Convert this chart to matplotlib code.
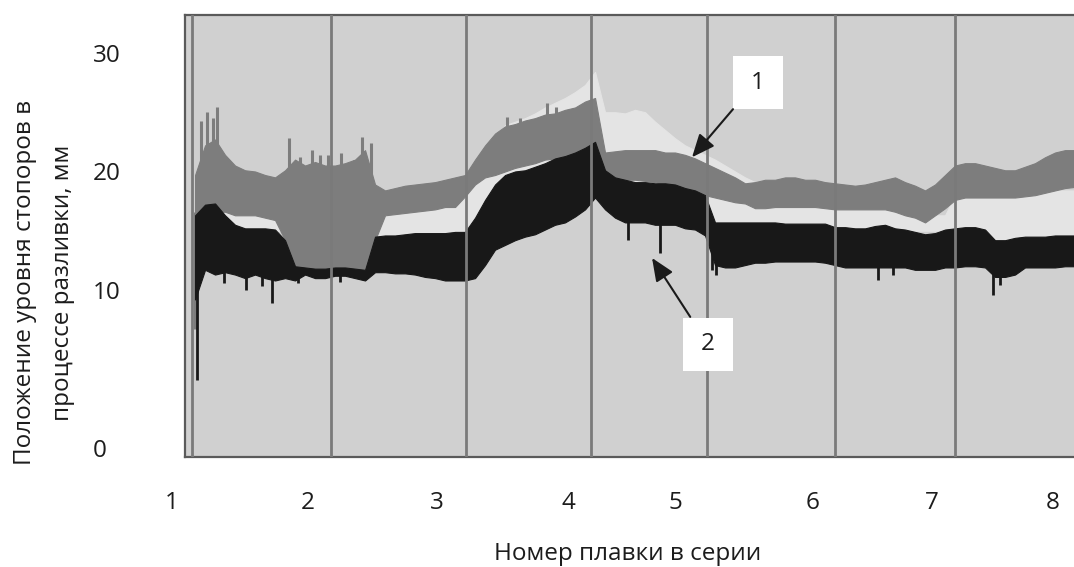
import numpy as np
import matplotlib
matplotlib.use("Agg")
import matplotlib.pyplot as plt
from matplotlib.patches import Rectangle

# ---------------- data ----------------
# time axis (arbitrary units along the casting sequence)
t = np.arange(5, 450, 5)

# heat change moments (vertical lines) and heat-number label positions
heat_bounds = [3.5, 73, 140.5, 203, 261, 325, 385]
heat_label_pos = [-6.5, 61.5, 126, 191.5, 245, 314, 373.5, 434]
heat_labels = ["1", "2", "3", "4", "5", "6", "7", "8"]

y_ticks = [0, 10, 20, 30]
y_ticklabels = ["0", "10", "20", "30"]

# series 1 (medium grey band) - upper / lower envelope, mm
gray_hi = [19.7, 22.2, 22.7, 21.4, 20.5, 20.1, 20.0, 19.7, 19.5, 20.1,
           21.0, 20.5, 20.8, 20.5, 20.5, 20.7, 21.0, 21.8, 18.9, 18.4,
           18.6, 18.8, 18.9, 19.0, 19.1, 19.3, 19.5, 19.7, 21.0, 22.2,
           23.2, 23.8, 24.0, 24.3, 24.5, 24.8, 24.9, 25.2, 25.4, 25.9,
           26.2, 21.6, 21.7, 21.8, 21.8, 21.8, 21.8, 21.6, 21.6, 21.4,
           21.1, 20.7, 20.3, 19.9, 19.5, 19.0, 19.1, 19.3, 19.3, 19.5,
           19.5, 19.3, 19.3, 19.1, 19.0, 18.9, 18.8, 18.9, 19.1, 19.3,
           19.5, 19.1, 18.8, 18.4, 18.9, 19.7, 20.5, 20.7, 20.7, 20.5,
           20.3, 20.1, 20.1, 20.4, 20.7, 21.2, 21.6, 21.8, 21.8]
gray_lo = [13.4, 16.3, 16.6, 16.6, 16.3, 16.3, 16.3, 16.1, 15.9, 14.2,
           11.4, 11.4, 11.4, 11.3, 11.3, 11.4, 11.3, 11.0, 14.2, 16.3,
           16.4, 16.5, 16.6, 16.7, 16.8, 17.0, 17.0, 17.9, 18.9, 19.5,
           19.7, 20.0, 20.3, 20.5, 20.7, 21.0, 21.1, 21.2, 21.4, 21.8,
           21.8, 19.1, 19.2, 19.3, 19.3, 19.2, 19.1, 18.9, 18.8, 18.6,
           18.4, 18.0, 17.8, 17.6, 17.4, 17.3, 16.9, 16.9, 17.0, 17.0,
           17.0, 17.0, 17.0, 16.9, 16.8, 16.8, 16.8, 16.8, 16.8, 16.8,
           16.6, 16.3, 16.1, 15.7, 16.3, 16.9, 17.6, 17.8, 17.8, 17.8,
           17.8, 17.8, 17.8, 17.9, 18.0, 18.2, 18.4, 18.6, 18.7]

# light (almost white) band
light_hi = [16.8, 17.2, 17.2, 17.2, 17.2, 17.2, 17.2, 17.0, 16.9, 16.3,
            15.1, 15.1, 14.9, 14.9, 14.9, 14.9, 14.9, 14.9, 17.2, 17.2,
            17.2, 17.2, 17.2, 17.2, 17.2, 17.2, 17.6, 18.4, 19.5, 20.1,
            22.7, 23.9, 24.2, 24.5, 24.9, 25.4, 25.8, 26.2, 26.7, 27.3,
            28.4, 25.0, 25.0, 24.9, 25.2, 25.0, 24.2, 23.5, 22.8, 22.2,
            21.8, 21.4, 21.0, 20.5, 20.0, 19.5, 19.1, 17.6, 17.6, 17.6,
            17.6, 17.6, 17.6, 17.6, 17.2, 17.2, 17.2, 17.2, 17.2, 17.2,
            17.2, 17.2, 16.3, 16.3, 16.3, 16.3, 18.0, 18.0, 18.0, 18.0,
            18.0, 18.0, 18.0, 18.1, 18.3, 18.3, 18.4, 18.4, 18.4]
light_lo = [15.0, 15.0, 15.0, 15.0, 15.0, 15.0, 15.0, 15.0, 15.0, 15.0,
            13.0, 13.0, 13.0, 13.0, 13.0, 13.0, 13.0, 13.0, 14.5, 14.5,
            14.5, 14.5, 14.5, 14.5, 14.5, 14.5, 14.5, 14.5, 15.5, 17.0,
            18.5, 19.5, 20.0, 20.0, 20.3, 20.5, 21.0, 21.0, 21.5, 21.8,
            22.3, 18.0, 18.0, 18.0, 18.0, 18.0, 18.0, 18.0, 18.0, 18.0,
            18.0, 18.0, 15.6, 15.6, 15.6, 15.6, 15.6, 15.0, 15.0, 15.0,
            15.0, 15.0, 15.0, 15.0, 15.0, 15.0, 15.0, 15.0, 15.0, 15.0,
            15.0, 15.0, 15.0, 15.0, 15.0, 15.0, 15.0, 15.0, 15.0, 15.0,
            14.3, 14.3, 14.3, 14.3, 14.3, 14.3, 14.3, 14.3, 14.3]

# series 2 (black band)
black_hi = [16.3, 17.2, 17.3, 16.3, 15.5, 15.2, 15.2, 15.2, 15.1, 14.2,
            12.0, 11.9, 11.8, 11.8, 11.9, 11.9, 11.8, 11.7, 14.5, 14.6,
            14.6, 14.7, 14.8, 14.8, 14.8, 14.8, 14.9, 14.9, 16.1, 17.6,
            18.9, 19.7, 20.0, 20.1, 20.4, 20.7, 21.1, 21.3, 21.6, 22.0,
            22.5, 20.1, 19.5, 19.3, 19.1, 19.1, 19.0, 19.0, 18.9, 18.6,
            18.4, 18.0, 15.7, 15.7, 15.7, 15.7, 15.7, 15.7, 15.7, 15.6,
            15.6, 15.6, 15.6, 15.6, 15.3, 15.3, 15.2, 15.2, 15.4, 15.5,
            15.2, 15.1, 14.9, 14.7, 14.8, 15.1, 15.2, 15.3, 15.3, 15.1,
            14.2, 14.2, 14.4, 14.5, 14.5, 14.5, 14.6, 14.6, 14.6]
black_lo = [9.4, 11.7, 11.3, 11.5, 11.3, 11.0, 11.3, 11.0, 10.8, 11.0,
            10.8, 11.3, 11.0, 11.0, 11.2, 11.2, 11.0, 10.8, 11.5, 11.5,
            11.4, 11.4, 11.3, 11.1, 11.0, 10.8, 10.8, 10.8, 11.0, 12.1,
            13.4, 13.8, 14.2, 14.5, 14.7, 15.1, 15.5, 15.7, 16.2, 16.8,
            17.8, 16.8, 16.1, 15.7, 15.7, 15.7, 15.5, 15.5, 15.5, 15.2,
            15.1, 14.6, 12.1, 11.9, 11.9, 12.1, 12.3, 12.3, 12.4, 12.4,
            12.4, 12.4, 12.4, 12.3, 12.1, 11.9, 11.9, 11.9, 11.9, 11.9,
            11.9, 11.9, 11.7, 11.7, 11.7, 11.9, 11.9, 12.0, 12.0, 11.9,
            11.1, 11.1, 11.3, 11.9, 11.9, 11.9, 11.9, 12.0, 12.0]

# isolated spikes (time, tip value)
gray_spike_t = [5, 8, 11, 14, 16, 52, 57.5, 63.5, 67.5, 71.5, 78, 84.5, 88.5, 93, 161, 167.5, 181, 185.5]
gray_spike_v = [7.5, 24.3, 25.0, 24.5, 25.4, 22.8, 21.2, 21.8, 21.4, 21.4, 21.6, 21.0, 22.9, 22.4, 24.6, 24.5, 25.8, 25.4]
black_spike_t = [6, 19.5, 30.5, 38.5, 43.5, 56.5, 77.5, 221.5, 237.5, 263.5, 265.5, 346.5, 354, 404, 407.5]
black_spike_v = [4.3, 10.6, 10.0, 10.3, 9.2, 10.6, 10.7, 14.2, 13.1, 11.7, 11.3, 10.8, 11.3, 9.7, 10.4]

# ---------------- styling ----------------
FONT = ["Open Sans", "DejaVu Sans"]
FS = 17.5
TXT = "#1c1c1c"
BG = "#d0d0d0"
C_GRAY = "#7d7d7d"
C_LIGHT = "#e4e4e4"
C_BLACK = "#181818"

plt.rcParams["font.family"] = FONT

fig = plt.figure(figsize=(10.74, 5.67), dpi=100)
ax = fig.add_axes([0.1723, 0.194, 0.8296, 0.7795])
ax.set_facecolor(BG)


def fwd(v):
    v = np.asarray(v, dtype=float)
    return np.where(v < 10, v * 15.8, 158 + (v - 10) * 11.85)


def inv(u):
    u = np.asarray(u, dtype=float)
    return np.where(u < 158, u / 15.8, 10 + (u - 158) / 11.85)


ax.set_yscale("function", functions=(fwd, inv))
ax.set_xlim(0, 445.5)
ax.set_ylim(-0.57, 33.2)

tt = np.asarray(t, dtype=float)
ax.fill_between(tt, light_lo, light_hi, color=C_LIGHT, lw=0.8, edgecolor=C_LIGHT, zorder=2)
ax.fill_between(tt, gray_lo, gray_hi, color=C_GRAY, lw=0.8, edgecolor=C_GRAY, zorder=3)
gbase = np.interp(gray_spike_t, tt, (np.array(gray_hi) + np.array(gray_lo)) / 2)
ax.vlines(gray_spike_t, np.minimum(gbase, gray_spike_v), np.maximum(gbase, gray_spike_v),
          color=C_GRAY, lw=2.2, zorder=3)
ax.fill_between(tt, black_lo, black_hi, color=C_BLACK, lw=0.8, edgecolor=C_BLACK, zorder=4)
bbase = np.interp(black_spike_t, tt, (np.array(black_hi) + np.array(black_lo)) / 2)
ax.vlines(black_spike_t, np.minimum(bbase, black_spike_v), np.maximum(bbase, black_spike_v),
          color=C_BLACK, lw=2.0, zorder=4)

for b in heat_bounds:
    ax.axvline(b, color="#7a7a7a", lw=2.0, zorder=5)

# frame
for side in ["left", "bottom", "top"]:
    ax.spines[side].set_color("#5a5a5a")
    ax.spines[side].set_linewidth(1.6)
ax.spines["right"].set_visible(False)

# ticks
ax.set_xticks([])
ax.set_yticks(y_ticks)
ax.set_yticklabels(y_ticklabels)
ax.tick_params(axis="y", length=0, pad=66.2, labelsize=FS, labelcolor=TXT)
for lbl in ax.get_yticklabels():
    lbl.set_horizontalalignment("left")
    lbl.set_fontfamily(FONT)

for xp, lab in zip(heat_label_pos, heat_labels):
    ax.text(xp, -0.104, lab, transform=ax.get_xaxis_transform(), ha="center", va="center",
            fontsize=FS, color=TXT, clip_on=False)

fig.text(0.584, 0.023, "Номер плавки в серии", ha="center", va="center", fontsize=FS, color=TXT)
fig.text(0.041, 0.501, "Положение уровня стопоров в\nпроцессе разливки, мм", ha="center", va="center",
         rotation=90, fontsize=FS, color=TXT, linespacing=1.75, multialignment="center")

# callouts
boxes = [((0.615, 0.787), "1", (253.5, 21.2)),
         ((0.559, 0.1946), "2", (233.5, 12.7))]
tails = [(0.615, 0.787), (0.567, 0.317)]
for (bx, by), lab, head in boxes:
    ax.add_patch(Rectangle((bx, by), 0.0561, 0.121, transform=ax.transAxes,
                           facecolor="white", edgecolor="none", zorder=8))
    ax.text(bx + 0.028, by + 0.06, lab, transform=ax.transAxes, ha="center", va="center",
            fontsize=FS, color=TXT, zorder=9)
for (tx, ty), (_, _, head) in zip(tails, boxes):
    ax.annotate("", xy=head, xycoords="data", xytext=(tx, ty), textcoords="axes fraction",
                arrowprops=dict(arrowstyle="-|>,head_length=0.7,head_width=0.3", color="#1a1a1a",
                                lw=1.5, shrinkA=0, shrinkB=0, mutation_scale=20),
                zorder=9)

fig.savefig("out.png", dpi=100)
